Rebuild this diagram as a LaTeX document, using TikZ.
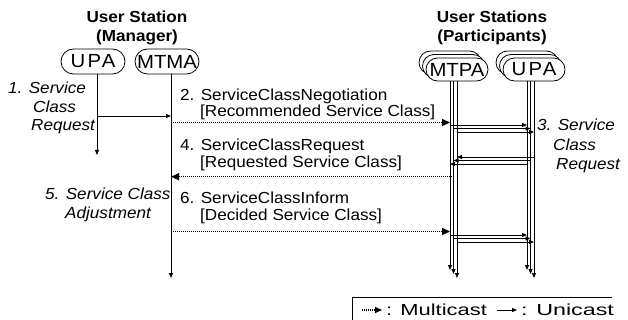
\documentclass[tikz,border=0pt]{standalone}
\usepackage{fontspec}
\setmainfont{Liberation Sans}[FakeStretch=1.07]
\usetikzlibrary{arrows.meta}
\begin{document}
\begin{tikzpicture}[x=1pt,y=-1pt,
  lbl/.style={anchor=base west,inner sep=0pt,font=\fontsize{16}{18}\selectfont},
  ilbl/.style={anchor=base west,inner sep=0pt,font=\fontsize{16}{18}\selectfont\itshape},
  ttl/.style={anchor=base,inner sep=0pt,font=\fontsize{16}{18}\selectfont\bfseries},
  agent/.style={draw,fill=white,rounded corners=11.5pt,minimum width=62pt,minimum height=23pt,inner sep=0pt,line width=0.8pt,font=\fontsize{19}{19}\selectfont},
  bigagent/.style={agent,minimum width=64pt,minimum height=25pt,rounded corners=12.5pt},
  life/.style={line width=0.8pt,-{Triangle[length=5pt,width=4pt]}},
  uni/.style={line width=0.8pt,-{Triangle[length=5pt,width=4pt]}},
  multi/.style={line width=1.3pt,dash pattern=on 1pt off 1pt,-{Triangle[length=8pt,width=7pt]}},
]
\useasboundingbox (0,0) rectangle (628,320);

% titles
\node[ttl] (t1) at (137,23) {User Station};
\node[ttl] (t2) at (137,42) {(Manager)};
\node[ttl] (t3) at (492,23) {User Stations};
\node[ttl] (t4) at (492,42) {(Participants)};

% manager lifelines
\coordinate (upaL0) at (97,74);   \coordinate (upaL1) at (97,155);
\coordinate (mtmaL0) at (171,74); \coordinate (mtmaL1) at (171,278);
\draw[life] (upaL0) -- (upaL1);
\draw[life] (mtmaL0) -- (mtmaL1);
\node[bigagent] (upaM) at (93,61.5) {\addfontfeature{LetterSpace=12}UPA};
\node[bigagent] (mtma) at (167,61.5) {MTMA};

% participant lifelines (three stacked copies)
\foreach \k in {0,1,2}{
  \coordinate (mtpaT\k) at (450+3.5*\k,70);
  \coordinate (mtpaB\k) at (450+3.5*\k,270+4*\k);
  \coordinate (upaT\k) at (527+3.5*\k,70);
  \coordinate (upaB\k) at (527+3.5*\k,270+4*\k);
  \draw[life] (mtpaT\k) -- (mtpaB\k);
  \draw[life] (upaT\k) -- (upaB\k);
}
\foreach \k in {0,1,2}{
  \node[agent] (mtpa\k) at (450+3.5*\k,62.5+3.5*\k) {\ifnum\k=2 MTPA\fi};
  \node[agent] (upaP\k) at (527+3.5*\k,62.5+3.5*\k) {\ifnum\k=2 \addfontfeature{LetterSpace=12}UPA\fi};
}

% step 1
\coordinate (s1a) at (97,116); \coordinate (s1b) at (171,116);
\draw[uni] (s1a) -- (s1b);
% step 2
\coordinate (s2a) at (171,122.5); \coordinate (s2b) at (450,122.5);
\draw[multi] (s2a) -- (s2b);
% step 3
\foreach \k in {0,1,2}{
  \coordinate (s3a\k) at (450+3.5*\k,125+3.5*\k);
  \coordinate (s3b\k) at (527+3.5*\k,125+3.5*\k);
  \draw[uni] (s3a\k) -- (s3b\k);
}
% step 4 (participants)
\foreach \j in {0,1,2}{
  \coordinate (s4a\j) at (534-3.5*\j,157+3.5*\j);
  \coordinate (s4b\j) at (457-3.5*\j,157+3.5*\j);
  \draw[uni] (s4a\j) -- (s4b\j);
}
\coordinate (s4c) at (454,176.7); \coordinate (s4d) at (171,176.7);
\draw[multi] (s4c) -- (s4d);
% step 6
\coordinate (s6a) at (171,231.5); \coordinate (s6b) at (450,231.5);
\draw[multi] (s6a) -- (s6b);
\foreach \k in {0,1,2}{
  \coordinate (s6c\k) at (450+3.5*\k,235+3.5*\k);
  \coordinate (s6d\k) at (527+3.5*\k,235+3.5*\k);
  \draw[uni] (s6c\k) -- (s6d\k);
}

% labels
\node[ilbl] (l1a) at (8,94) {1. Service};
\node[ilbl] (l1b) at (33,113) {Class};
\node[ilbl] (l1c) at (31,131) {Request};
\node[lbl] (l2a) at (180,100.5) {2. ServiceClassNegotiation};
\node[lbl] (l2b) at (200,117) {[Recommended Service Class]};
\node[ilbl] (l3a) at (537,130.7) {3. Service};
\node[ilbl] (l3b) at (553,150.7) {Class};
\node[ilbl] (l3c) at (556,169.5) {Request};
\node[lbl] (l4a) at (180,150.7) {4. ServiceClassRequest};
\node[lbl] (l4b) at (200,168) {[Requested Service Class]};
\node[ilbl] (l5a) at (45,200) {5. Service Class};
\node[ilbl] (l5b) at (65,218.3) {Adjustment};
\node[lbl] (l6a) at (180,203.3) {6. ServiceClassInform};
\node[lbl] (l6b) at (200,221) {[Decided Service Class]};

% legend
\coordinate (lgA) at (352,320); \coordinate (lgB) at (352,297); \coordinate (lgC) at (612,297);
\draw[line width=0.8pt] (lgA) -- (lgB) -- (lgC);
\coordinate (lm1) at (362,310); \coordinate (lm2) at (382,310);
\draw[multi,-{Triangle[length=7pt,width=6pt]}] (lm1) -- (lm2);
\node[lbl] (lgm) at (386,315) {\scalebox{1.28}[1]{: Multicast}};
\coordinate (lu1) at (497,310); \coordinate (lu2) at (517,310);
\draw[uni] (lu1) -- (lu2);
\node[lbl] (lgu) at (521,315) {\scalebox{1.36}[1]{: Unicast}};
\end{tikzpicture}
\end{document}
